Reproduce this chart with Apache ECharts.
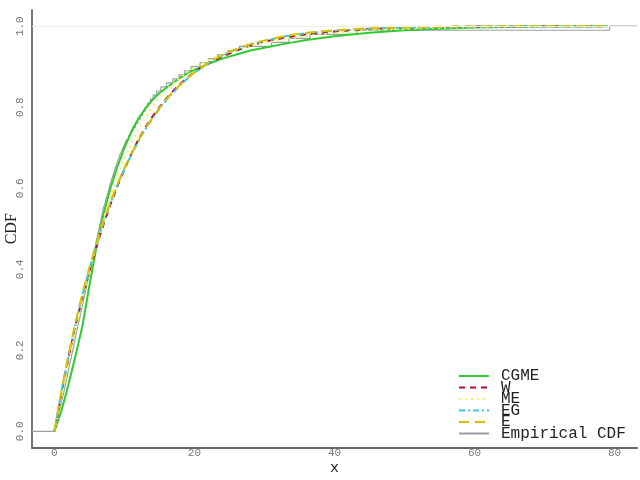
<!DOCTYPE html>
<html>
<head>
<meta charset="utf-8">
<script src="https://cdn.jsdelivr.net/npm/echarts@6/dist/echarts.min.js"></script>
<style>html,body{margin:0;padding:0;background:#fff}#c{width:640px;height:480px}</style>
</head>
<body>
<div id="c"></div>
<script>
// ---- data ----
const xGrid = [0,1,2,3,4,5,6,7,8,9,10,11,12,13,14,15,16,17,18,19,20,22,24,26,28,30,33,36,40,45,50,55,60,65,70,75,79];
const cgme = [0,0.05,0.115,0.185,0.26,0.36,0.455,0.535,0.6,0.653,0.70,0.74,0.772,0.797,0.818,0.835,0.848,0.861,0.873,0.884,0.892,0.907,0.92,0.93,0.94,0.947,0.957,0.966,0.975,0.984,0.99,0.994,0.997,0.998,0.999,0.9995,1.0];
const wFit = [0,0.093,0.18,0.26,0.33,0.395,0.455,0.51,0.56,0.605,0.647,0.685,0.72,0.75,0.777,0.80,0.822,0.841,0.858,0.873,0.887,0.909,0.925,0.94,0.952,0.962,0.972,0.98,0.987,0.993,0.996,0.998,0.999,0.9995,1,1,1];
const meFit = [0,0.085,0.17,0.25,0.325,0.395,0.46,0.522,0.578,0.628,0.672,0.712,0.746,0.776,0.802,0.824,0.843,0.86,0.874,0.887,0.898,0.916,0.931,0.942,0.951,0.959,0.968,0.976,0.983,0.99,0.994,0.996,0.998,0.999,0.9995,1,1];
const egFit = [0,0.098,0.185,0.264,0.336,0.401,0.46,0.514,0.563,0.607,0.647,0.683,0.716,0.746,0.772,0.796,0.818,0.837,0.855,0.871,0.885,0.909,0.928,0.943,0.955,0.964,0.975,0.983,0.989,0.994,0.997,0.998,0.999,0.9995,1,1,1];
const eFit = [0,0.1,0.188,0.268,0.34,0.405,0.464,0.518,0.566,0.61,0.65,0.686,0.718,0.748,0.774,0.798,0.82,0.839,0.856,0.872,0.886,0.91,0.929,0.944,0.956,0.965,0.976,0.984,0.99,0.995,0.997,0.9985,0.9993,0.9997,1,1,1];
// sorted sample (empirical CDF jump points)
const sample = [0.12,0.31,0.42,0.6,0.69,0.88,0.98,
 1.1,1.27,1.38,1.52,1.64,1.75,1.89,1.98,
 2.11,2.24,2.39,2.48,2.63,2.75,2.88,2.97,
 3.1,3.22,3.35,3.5,3.64,3.72,3.86,3.99,
 4.13,4.22,4.37,4.49,4.62,4.76,4.88,4.98,
 5.1,5.25,5.36,5.51,5.63,5.74,5.89,5.99,
 6.12,6.25,6.37,6.49,6.62,6.75,6.86,6.98,
 7.18,7.33,7.5,7.66,7.82,7.98,8.15,
 8.33,8.52,8.7,8.9,9.1,9.3,
 9.55,9.8,10.05,10.3,
 10.6,10.9,11.2,11.55,11.9,12.25,12.6,12.95,13.3,13.7,14.1,14.6,15.2,16.0,16.9,17.8,18.6,19.5,20.8,22.0,23.3,24.8,26.4,31.0,33.5,36.5,43.2,79.3];
const xTicks = [0,20,40,60,80];
const yTicks = [0,0.2,0.4,0.6,0.8,1.0];
const names = ['CGME','W','ME','EG','E','Empirical CDF'];

const X_MIN = -3.2, X_MAX = 83.2, Y_MIN = -0.04, Y_MAX = 1.04;

function pairs(ys){ return xGrid.map((x,i)=>[x, ys[i]]); }
const n = sample.length;
const empData = [[X_MIN,0]].concat(sample.map((x,i)=>[x,(i+1)/n])).concat([[X_MAX,1]]);

const chart = echarts.init(document.getElementById('c'));
const mono = 'Liberation Mono';
function fit(name, data, color, type, width){
  return {name, type:'line', data:pairs(data), symbol:'none', smooth:false,
    lineStyle:{color, width, type}, itemStyle:{color}, z:3};
}
chart.setOption({
  animation:false,
  backgroundColor:'#fff',
  grid:{left:32, right:3, top:10, bottom:32.5, containLabel:false, outerBoundsMode:'none'},
  xAxis:{type:'value', min:X_MIN, max:X_MAX,
    name:'x', nameLocation:'middle', nameGap:13, nameMoveOverlap:false,
    nameTextStyle:{fontFamily:mono, fontSize:15, color:'#222'},
    axisLine:{show:true, onZero:false, lineStyle:{color:'#666', width:2}},
    axisTick:{show:false},
    splitLine:{show:false},
    axisLabel:{customValues:xTicks, fontFamily:mono, fontSize:11, color:'#777', margin:0,
      formatter:v=>String(v)}
  },
  yAxis:{type:'value', min:Y_MIN, max:Y_MAX,
    name:'CDF', nameLocation:'middle', nameGap:12, nameMoveOverlap:false,
    nameTextStyle:{fontFamily:'Liberation Serif', fontSize:16, color:'#222'},
    axisLine:{show:true, onZero:false, lineStyle:{color:'#777', width:2}},
    axisTick:{show:false},
    splitLine:{show:false},
    axisLabel:{customValues:yTicks, rotate:90, fontFamily:mono, fontSize:11, color:'#777', margin:6,
      formatter:v=>v.toFixed(1)}
  },
  legend:{orient:'vertical', left:453, top:363, itemWidth:30, itemHeight:10, itemGap:-4.5,
    height:120,
    data:names,
    itemStyle:{opacity:0},
    textStyle:{fontFamily:mono, fontSize:16, color:'#222', padding:[0,0,0,7]}
  },
  series:[
    {name:'Empirical CDF', type:'line', data:empData, step:'end', symbol:'none',
      lineStyle:{color:'#9aa0a6', width:1.2}, itemStyle:{color:'#9aa0a6'}, z:2,
      markLine:{silent:true, symbol:'none', label:{show:false},
        lineStyle:{color:'#ececec', width:1, type:'solid'}, data:[{yAxis:1}]}},
    fit('CGME', cgme, '#2ecc2e', 'solid', 2),
    fit('W', wFit, '#b0102a', [6,5], 2),
    fit('ME', meFit, '#f4f060', [2,4], 2),
    fit('EG', egFit, '#3cc8d8', [6,3,2,3], 2),
    fit('E', eFit, '#d8c000', [10,6], 2)
  ]
});
</script>
</body>
</html>
